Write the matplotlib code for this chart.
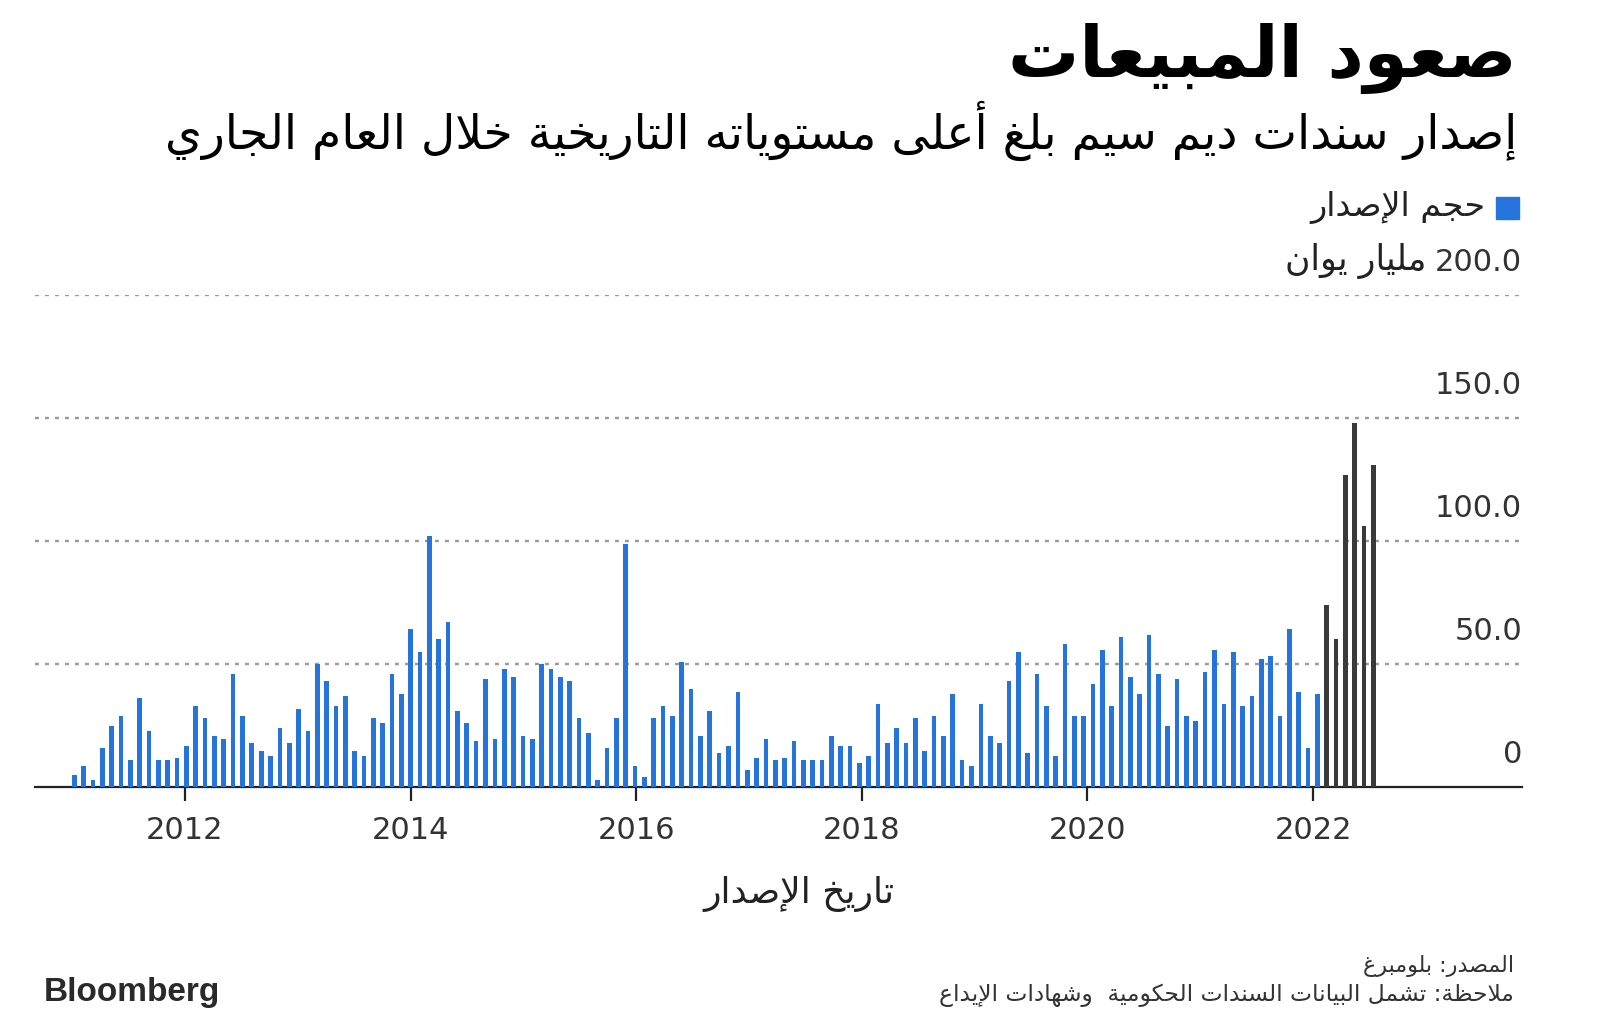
import re
import matplotlib
matplotlib.use("Agg")
import matplotlib.pyplot as plt
import matplotlib.transforms as mtransforms

# ---- data (billion yuan, monthly issuance, Jan 2011 onwards) ----
values = [
    4.9, 8.6, 2.8, 15.9, 24.9, 28.9, 10.9, 36.0, 22.8, 10.9, 10.9, 11.9,
    16.8, 32.8, 28.0, 20.8, 19.7, 46.0, 28.9, 17.8, 14.7, 12.8, 23.9, 17.8,
    31.8, 22.8, 49.9, 43.0, 32.8, 36.9, 14.7, 12.8, 28.0, 26.0, 46.0, 38.0,
    64.1, 54.9, 101.9, 60.0, 67.0, 30.8, 26.0, 18.8, 43.9, 19.7, 48.0, 44.9,
    20.8, 19.7, 49.9, 48.0, 44.9, 43.0, 28.0, 22.0, 2.8, 15.9, 28.0, 98.9,
    8.6, 3.9, 28.0, 32.8, 28.9, 50.8, 40.0, 20.8, 30.8, 13.8, 16.8, 38.8,
    6.9, 11.9, 19.7, 10.9, 11.9, 18.8, 10.9, 10.9, 10.9, 20.8, 16.8, 16.8,
    9.9, 12.8, 33.9, 17.8, 23.9, 17.8, 28.0, 14.7, 28.9, 20.8, 38.0, 10.9,
    8.6, 33.9, 20.8, 17.8, 43.0, 54.9, 13.8, 46.0, 32.8, 12.8, 58.0, 28.9,
    28.9, 41.9, 55.8, 32.8, 60.8, 44.9, 38.0, 61.9, 46.0, 24.9, 43.9, 28.9,
    26.9, 46.9, 55.8, 33.9, 54.9, 32.8, 36.9, 52.0, 53.1, 28.9, 64.1, 38.8,
    16.0, 37.9,
]
values_2022 = [73.8, 60.0, 126.9, 148.1, 106.1, 131.0]   # highlighted, latest months
years = [2012, 2014, 2016, 2018, 2020, 2022]
yticks = [0, 50, 100, 150, 200]
ytick_labels = ["0", "50.0", "100.0", "150.0", "200.0"]
unit_label = "مليار يوان"

title = "صعود المبيعات"
subtitle = "إصدار سندات ديم سيم بلغ أعلى مستوياته التاريخية خلال العام الجاري"
legend_label = "حجم الإصدار"
xlabel = "تاريخ الإصدار"
source = "المصدر: بلومبرغ"
note = "ملاحظة: تشمل البيانات السندات الحكومية  وشهادات الإيداع"

BLUE = "#2474dc"
DARK = "#3a3a3a"

# ---- minimal arabic shaping (matplotlib has no complex text layout) ----
_table = [('\u0621', 0xFE80, 1), ('\u0622', 0xFE81, 2), ('\u0623', 0xFE83, 2), ('\u0624', 0xFE85, 2),
          ('\u0625', 0xFE87, 2), ('\u0626', 0xFE89, 4), ('\u0627', 0xFE8D, 2), ('\u0628', 0xFE8F, 4),
          ('\u0629', 0xFE93, 2), ('\u062A', 0xFE95, 4), ('\u062B', 0xFE99, 4), ('\u062C', 0xFE9D, 4),
          ('\u062D', 0xFEA1, 4), ('\u062E', 0xFEA5, 4), ('\u062F', 0xFEA9, 2), ('\u0630', 0xFEAB, 2),
          ('\u0631', 0xFEAD, 2), ('\u0632', 0xFEAF, 2), ('\u0633', 0xFEB1, 4), ('\u0634', 0xFEB5, 4),
          ('\u0635', 0xFEB9, 4), ('\u0636', 0xFEBD, 4), ('\u0637', 0xFEC1, 4), ('\u0638', 0xFEC5, 4),
          ('\u0639', 0xFEC9, 4), ('\u063A', 0xFECD, 4), ('\u0641', 0xFED1, 4), ('\u0642', 0xFED5, 4),
          ('\u0643', 0xFED9, 4), ('\u0644', 0xFEDD, 4), ('\u0645', 0xFEE1, 4), ('\u0646', 0xFEE5, 4),
          ('\u0647', 0xFEE9, 4), ('\u0648', 0xFEED, 2), ('\u0649', 0xFEEF, 2), ('\u064A', 0xFEF1, 4)]
FORMS = {c: [chr(s + i) for i in range(n)] for c, s, n in _table}
LAM_ALEF = {'\u0622': 0xFEF5, '\u0623': 0xFEF7, '\u0625': 0xFEF9, '\u0627': 0xFEFB}


def ar(text):
    toks = []
    i = 0
    while i < len(text):
        c = text[i]
        if c == '\u0644' and i + 1 < len(text) and text[i + 1] in LAM_ALEF:
            s = LAM_ALEF[text[i + 1]]
            toks.append([chr(s), chr(s + 1)])
            i += 2
        else:
            toks.append(FORMS.get(c, c))
            i += 1
    out = []
    for k, t in enumerate(toks):
        if isinstance(t, str):
            out.append(t)
            continue
        prev = toks[k - 1] if k > 0 else None
        nxt = toks[k + 1] if k + 1 < len(toks) else None
        jp = isinstance(prev, list) and len(prev) == 4 and len(t) >= 2
        jn = len(t) == 4 and isinstance(nxt, list) and len(nxt) >= 2
        idx = 3 if (jp and jn) else 1 if jp else 2 if jn else 0
        out.append(t[idx])
    s = ''.join(out)[::-1]
    return re.sub(r'[0-9.]+', lambda m: m.group(0)[::-1], s)


# ---- figure ----
W, H = 1600, 1025
fig = plt.figure(figsize=(W / 100, H / 100), dpi=100)
fig.patch.set_facecolor("white")
ax = fig.add_axes([35 / W, 1 - 787 / H, (1522 - 35) / W, (787 - 295) / H])

n_blue = len(values)
x_blue = list(range(n_blue))
x_new = list(range(n_blue, n_blue + len(values_2022)))
ax.bar(x_blue, values, width=0.5, color=BLUE, zorder=3, linewidth=0)
ax.bar(x_new, values_2022, width=0.5, color=DARK, zorder=3, linewidth=0)

ax.set_ylim(0, 200)
ax.set_xlim(-4.2, 154.9)

plt.rcParams['lines.scale_dashes'] = False
for v in yticks[1:]:
    ax.axhline(v, color="#999999", lw=1.7, dashes=(2.8, 4.4), zorder=1)

# year ticks: bar index of 1 Jan of each year (chart's date scale)
tick_pos = [11.84 + (y - 2012) * 12.07 for y in years]
ax.set_xticks(tick_pos)
ax.set_xticklabels([str(y) for y in years])
ax.tick_params(axis="x", length=10, width=1.6, color="#222222", pad=11,
               labelsize=22, labelcolor="#333333")
ax.set_yticks([])
for s in ["left", "right", "top"]:
    ax.spines[s].set_visible(False)
ax.spines["bottom"].set_color("#222222")
ax.spines["bottom"].set_linewidth(1.6)

off = mtransforms.offset_copy(ax.get_yaxis_transform(), fig=fig, x=0, y=18, units="dots")
for v, lab in zip(yticks, ytick_labels):
    ax.text(1.0, v, lab, transform=off, ha="right", va="bottom",
            fontsize=22, color="#333333")
# unit next to the top label
off2 = mtransforms.offset_copy(ax.get_yaxis_transform(), fig=fig, x=-96, y=16, units="dots")
ax.text(1.0, yticks[-1], ar(unit_label), transform=off2, ha="right", va="bottom",
        fontsize=25, color="#222222")

# ---- texts ----
fig.text(1517 / W, 1 - 58 / H, ar(title), ha="right", va="center",
         fontsize=51, fontweight="bold", color="black")
fig.text(1517 / W, 1 - 131 / H, ar(subtitle), ha="right", va="center",
         fontsize=34, color="black")
fig.patches.append(plt.Rectangle((1496 / W, 1 - 219 / H), 23 / W, 22 / H,
                                 transform=fig.transFigure, color=BLUE))
fig.text(1485 / W, 1 - 208 / H, ar(legend_label), ha="right", va="center",
         fontsize=24, color="#222222")
fig.text(799 / W, 1 - 894 / H, ar(xlabel), ha="center", va="center",
         fontsize=26, color="#222222")
fig.text(1514 / W, 1 - 966 / H, ar(source), ha="right", va="center",
         fontsize=16, color="#333333")
fig.text(1514 / W, 1 - 995 / H, ar(note), ha="right", va="center",
         fontsize=16.8, color="#333333")
fig.text(44 / W, 1 - 993 / H, "Bloomberg", ha="left", va="center",
         fontsize=24, fontweight="bold", family="Liberation Sans", color="#2a2a2a")

fig.savefig("out.png", dpi=100)
